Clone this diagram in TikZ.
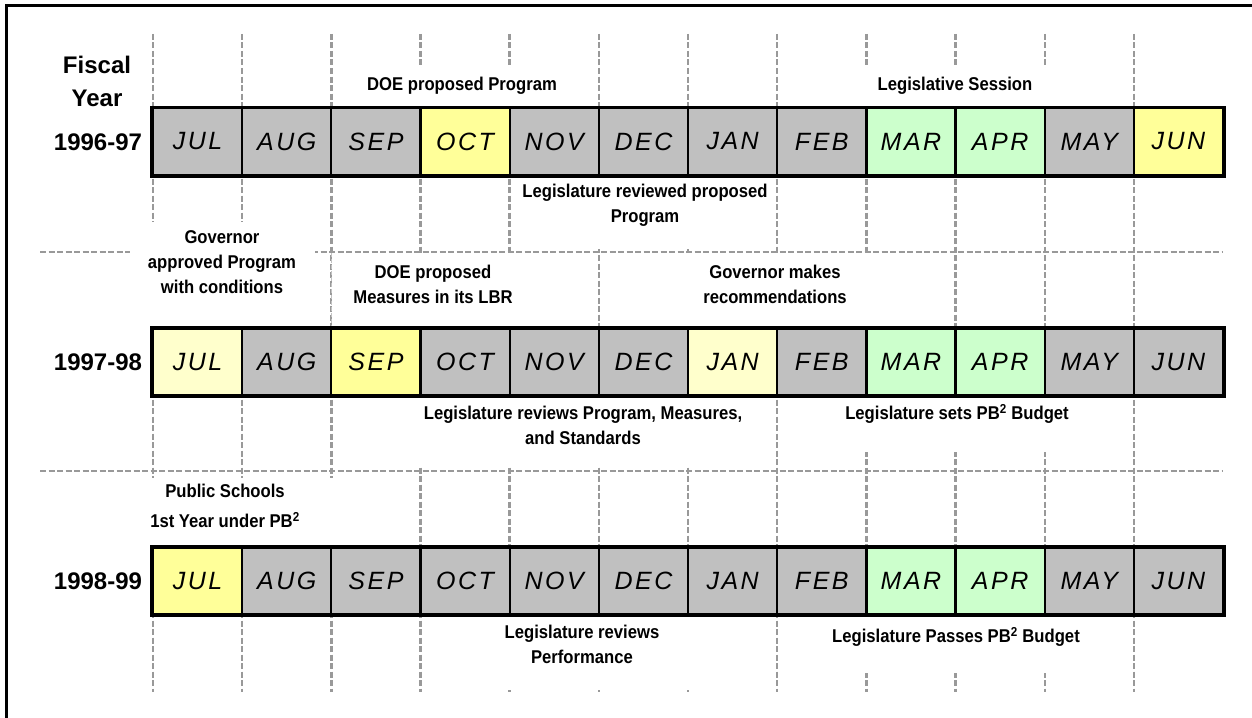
\documentclass[tikz,border=0pt]{standalone}
\usepackage{fontspec}
\setmainfont{Liberation Sans}
\newfontfamily\labfont[FakeStretch=0.9]{Liberation Sans}
\newfontfamily\monfont[LetterSpace=10]{Liberation Sans}
\definecolor{cg}{HTML}{C0C0C0}
\definecolor{cy}{HTML}{FFFF99}
\definecolor{cly}{HTML}{FFFFCC}
\definecolor{cgr}{HTML}{CCFFCC}
\definecolor{gridgray}{HTML}{999999}
\begin{document}
\begin{tikzpicture}[x=1pt,y=-1pt,
  gridline/.style={draw=gridgray, line width=2.4pt, dash pattern=on 6pt off 2.5pt},
  cell/.style={draw=black, line width=2.3pt, minimum width=89.17pt, minimum height=66.5pt, inner sep=0pt, font=\monfont\itshape\fontsize{25}{25}\selectfont},
  lab/.style={font=\labfont\bfseries\fontsize{18.5}{25}\selectfont, align=center, inner sep=0pt},
  yr/.style={font=\bfseries\fontsize{24}{27}\selectfont, inner sep=0pt},
  bg/.style={fill=white},
]
\useasboundingbox (0,0) rectangle (1252,717);
\fill[white] (0,0) rectangle (1252,717);
% frame (left and top edges visible)
\draw[line width=3pt] (6,720) -- (6,5.5) -- (1256,5.5);
% grid
\foreach \i in {0,...,11}
  \draw[gridline] ({153+89.17*\i},34) -- ({153+89.17*\i},692);
\draw[gridline] (40,252) -- (1223,252);
\draw[gridline] (40,471) -- (1223,471);
% label backgrounds
\fill[bg] (345,68) rectangle (580,106);
\fill[bg] (858,68) rectangle (1052,106);
\fill[bg] (518,178) rectangle (772,249);
\fill[bg] (130,222) rectangle (315,326);
\fill[bg] (332,255) rectangle (560,327);
\fill[bg] (605,255) rectangle (945,327);
\fill[bg] (405,397) rectangle (765,467);
\fill[bg] (840,397) rectangle (1075,452);
\fill[bg] (145,478) rectangle (340,546);
\fill[bg] (490,616) rectangle (700,690);
\fill[bg] (828,616) rectangle (1085,673);
\draw[gridgray!60, line width=0.8pt, dash pattern=on 4pt off 2pt] (331.3,253) -- (331.3,328);
% row 1
\foreach \m/\c [count=\i from 0] in {JUL/cg,AUG/cg,SEP/cg,OCT/cy,NOV/cg,DEC/cg,JAN/cg,FEB/cg,MAR/cgr,APR/cgr,MAY/cg,JUN/cy}
  \node[cell, fill=\c] (a\m) at ({153+89.17*(\i+0.5)},141.5) {\m};
\draw[line width=3.2pt] (aJUL.north west) rectangle (aJUN.south east);
% row 2
\foreach \m/\c [count=\i from 0] in {JUL/cly,AUG/cg,SEP/cy,OCT/cg,NOV/cg,DEC/cg,JAN/cly,FEB/cg,MAR/cgr,APR/cgr,MAY/cg,JUN/cg}
  \node[cell, fill=\c] (b\m) at ({153+89.17*(\i+0.5)},362) {\m};
\draw[line width=3.2pt] (bJUL.north west) rectangle (bJUN.south east);
% row 3
\foreach \m/\c [count=\i from 0] in {JUL/cy,AUG/cg,SEP/cg,OCT/cg,NOV/cg,DEC/cg,JAN/cg,FEB/cg,MAR/cgr,APR/cgr,MAY/cg,JUN/cg}
  \node[cell, fill=\c] (c\m) at ({153+89.17*(\i+0.5)},581) {\m};
\draw[line width=3.2pt] (cJUL.north west) rectangle (cJUN.south east);
% year labels
\node[yr] (fiscal) at (97,65) {Fiscal};
\node[yr] (year) at (97,98) {Year};
\node[yr] (y1) at (98,142) {1996-97};
\node[yr] (y2) at (98,362) {1997-98};
\node[yr] (y3) at (98,581) {1998-99};
% event labels
\node[lab] (l1) at (462,86) {DOE proposed Program};
\node[lab] (l2) at (955,86) {Legislative Session};
\node[lab] (l3) at (645,205.5) {Legislature reviewed proposed\\Program};
\node[lab] (l4) at (222,262.5) {Governor\\approved Program\\with conditions};
\node[lab] (l5) at (433,284.5) {DOE proposed\\Measures in its LBR};
\node[lab] (l6) at (775,284.5) {Governor makes\\recommendations};
\node[lab] (l7) at (583,425.5) {Legislature reviews Program, Measures,\\and Standards};
\node[lab] (l8) at (957,414) {Legislature sets PB\textsuperscript{2} Budget};
\node[lab] (l9) at (225,506) {Public Schools\\[5pt]1st Year under PB\textsuperscript{2}};
\node[lab] (l10) at (582,644.5) {Legislature reviews\\Performance};
\node[lab] (l11) at (956,637) {Legislature Passes PB\textsuperscript{2} Budget};
\end{tikzpicture}
\end{document}
